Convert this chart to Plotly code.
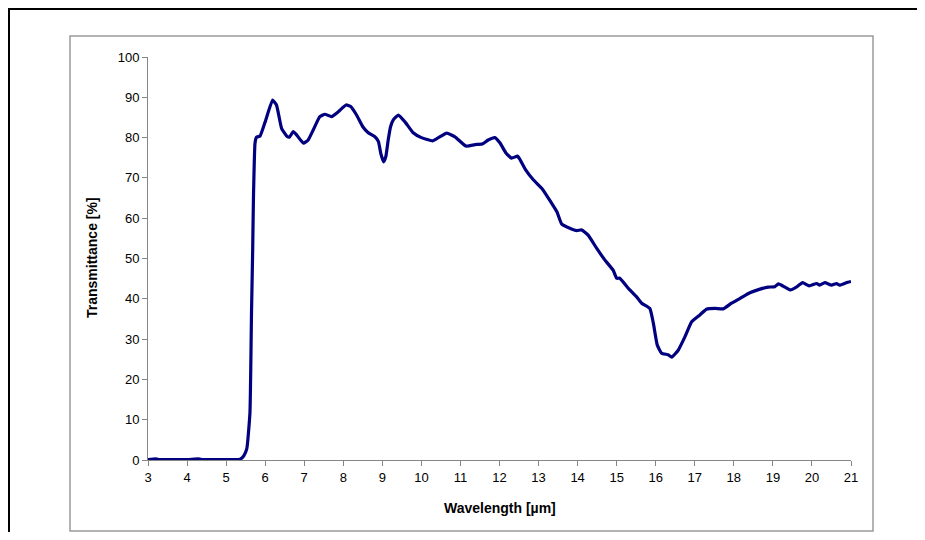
import plotly.graph_objects as go

wavelength = [3.0, 3.2, 3.3, 3.5, 4.0, 4.3, 4.4, 4.8, 5.2, 5.36, 5.45, 5.53, 5.61, 5.65, 5.68, 5.70, 5.74, 5.78, 5.87,
              6.0, 6.19, 6.29, 6.42, 6.55, 6.62, 6.72, 6.81, 6.98, 7.10, 7.23, 7.40, 7.53, 7.70, 7.87,
              8.07, 8.19, 8.34, 8.50, 8.64, 8.81, 8.90, 8.96, 9.03, 9.09, 9.15, 9.21, 9.28, 9.41,
              9.58, 9.79, 10.0, 10.29, 10.47, 10.65, 10.86, 11.14, 11.41, 11.56, 11.71, 11.88,
              12.01, 12.17, 12.31, 12.46, 12.54, 12.67, 12.86, 13.10, 13.31, 13.47, 13.59, 13.80,
              13.98, 14.10, 14.27, 14.49, 14.70, 14.91, 15.0, 15.08, 15.30, 15.50, 15.64, 15.85,
              15.94, 16.04, 16.15, 16.32, 16.41, 16.58, 16.75, 16.92, 17.13, 17.30, 17.52, 17.73,
              17.94, 18.16, 18.41, 18.67, 18.88, 19.05, 19.14, 19.31, 19.45, 19.60, 19.76, 19.93,
              20.12, 20.20, 20.33, 20.50, 20.63, 20.71, 20.88, 21.0]
transmittance = [0.1, 0.3, 0.1, 0.1, 0.1, 0.3, 0.1, 0.1, 0.1, 0.2, 1.0, 2.8, 11.7, 36.5, 52.0, 65.0, 78.6, 80.1, 80.4,
                 83.9, 89.3, 88.1, 82.3, 80.4, 80.1, 81.5, 80.6, 78.6, 79.4, 81.9, 85.2, 85.8, 85.2, 86.4,
                 88.1, 87.7, 85.6, 82.7, 81.2, 80.2, 79.0, 76.1, 74.0, 75.3, 79.4, 82.7, 84.4, 85.6,
                 83.9, 81.2, 80.0, 79.2, 80.2, 81.1, 80.2, 77.9, 78.3, 78.4, 79.4, 80.0,
                 78.7, 76.1, 74.9, 75.4, 74.3, 72.0, 69.6, 67.2, 64.1, 61.6, 58.6, 57.5,
                 56.9, 57.1, 55.8, 52.5, 49.6, 47.1, 45.1, 45.1, 42.6, 40.6, 38.9, 37.6,
                 33.9, 28.5, 26.5, 26.1, 25.5, 27.3, 30.6, 34.3, 36.0, 37.4, 37.6, 37.5,
                 38.9, 40.1, 41.5, 42.4, 42.9, 43.0, 43.7, 42.9, 42.2, 42.9, 44.0, 43.2,
                 43.8, 43.4, 44.0, 43.4, 43.8, 43.4, 44.0, 44.3]

x_ticks = list(range(3, 22))
y_ticks = list(range(0, 101, 10))

fig = go.Figure()
fig.add_trace(go.Scatter(x=wavelength, y=transmittance, mode="lines",
                         line=dict(color="#000080", width=3.2, shape="spline", smoothing=0.4),
                         showlegend=False, hoverinfo="x+y"))

OFF = 8  # page offset of the rendered figure
L, R, T, B = 148 - OFF, 851 - OFF, 57 - OFF, 460 - OFF
W, H = 925 - 2 * OFF, 540 - 2 * OFF

def px(x):
    return (x - OFF - L) / (R - L)

def py(y):
    return (B - (y - OFF)) / (B - T)

fig.update_layout(
    width=W, height=H,
    margin=dict(l=L, r=W - R, t=T, b=H - B),
    paper_bgcolor="white", plot_bgcolor="white",
    font=dict(family="Liberation Sans, Arial, sans-serif", size=12, color="black"),
    xaxis=dict(range=[3, 21], tickvals=x_ticks, ticktext=[str(v) for v in x_ticks],
               showgrid=False, zeroline=False, showline=True, linecolor="#868686", linewidth=1,
               ticks="outside", ticklen=5, tickcolor="#868686", tickfont=dict(size=13)),
    yaxis=dict(range=[0, 100], tickvals=y_ticks, ticktext=[str(v) for v in y_ticks],
               showgrid=False, zeroline=False, showline=True, linecolor="#868686", linewidth=1,
               ticks="outside", ticklen=5, tickcolor="#868686", tickfont=dict(size=13)),
    shapes=[
        dict(type="rect", xref="paper", yref="paper", x0=px(70), x1=px(873), y0=py(531), y1=py(36),
             line=dict(color="#9a9a9a", width=1.5), fillcolor="rgba(0,0,0,0)", layer="below"),
        dict(type="line", xref="paper", yref="paper", x0=px(8.5), x1=px(8.5), y0=py(6), y1=py(560),
             line=dict(color="black", width=3), layer="below"),
        dict(type="line", xref="paper", yref="paper", x0=px(6), x1=px(940), y0=py(8.5), y1=py(8.5),
             line=dict(color="black", width=3), layer="below"),
    ],
    annotations=[
        dict(text="<b>Wavelength [µm]</b>", xref="paper", yref="paper", x=px(500), y=py(508),
             showarrow=False, font=dict(size=14), xanchor="center", yanchor="middle"),
        dict(text="<b>Transmittance [%]</b>", xref="paper", yref="paper", x=px(92), y=py(258),
             showarrow=False, font=dict(size=14), textangle=-90, xanchor="center", yanchor="middle"),
    ],
)

fig.write_html("out.html")
